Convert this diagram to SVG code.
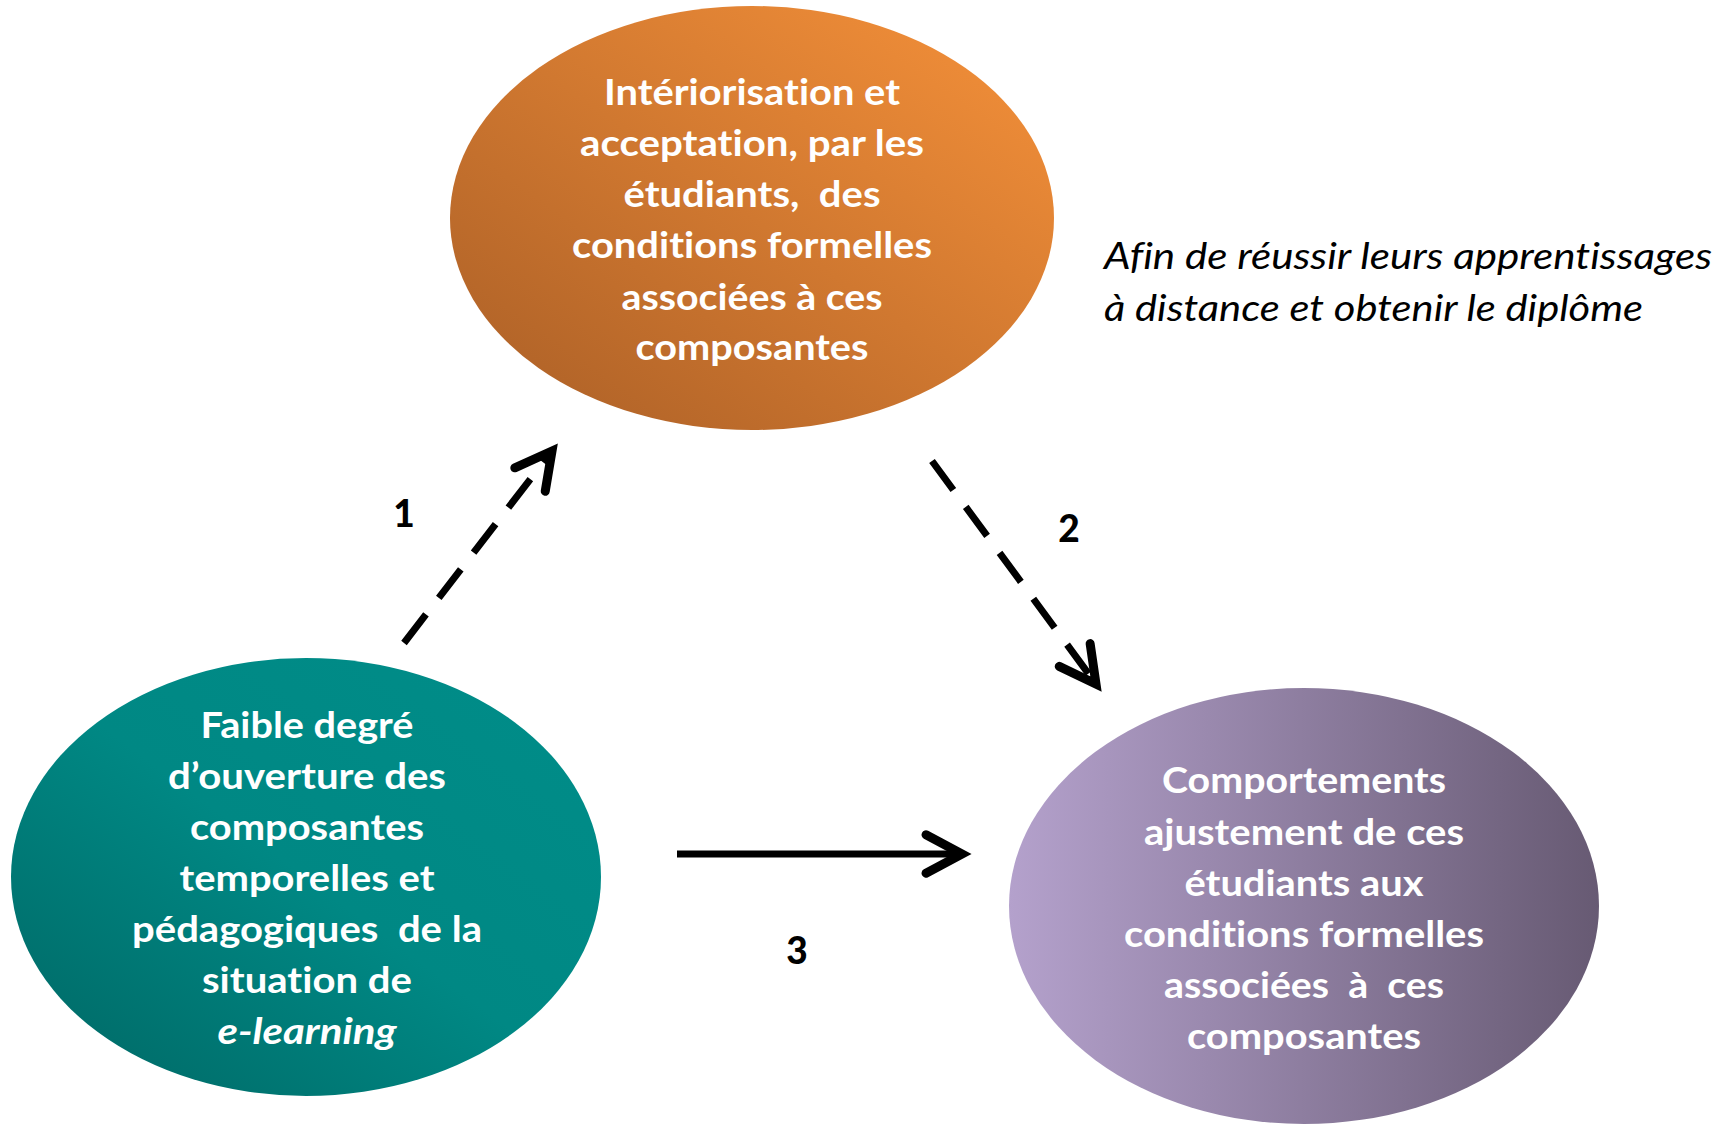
<svg xmlns="http://www.w3.org/2000/svg" width="1729" height="1124" viewBox="0 0 1729 1124">
  <defs>
    <linearGradient id="gOrange" x1="1" y1="0" x2="0" y2="1">
      <stop offset="0" stop-color="#F7923A"/>
      <stop offset="1" stop-color="#A95E26"/>
    </linearGradient>
    <linearGradient id="gTeal" x1="1" y1="0" x2="0" y2="1">
      <stop offset="0" stop-color="#008D89"/>
      <stop offset="0.5" stop-color="#008884"/>
      <stop offset="1" stop-color="#006663"/>
    </linearGradient>
    <linearGradient id="gPurple" x1="0" y1="0" x2="1" y2="0">
      <stop offset="0" stop-color="#B4A1CC"/>
      <stop offset="1" stop-color="#675A73"/>
    </linearGradient>
    <marker id="head" markerUnits="userSpaceOnUse" markerWidth="60" markerHeight="60" viewBox="-40 -25 50 50" refX="0" refY="0" orient="auto">
      <path d="M -30 -16 L 0 0 L -30 16" fill="none" stroke="#000" stroke-width="7.5" stroke-linecap="round" stroke-linejoin="miter"/>
    </marker>
    <style>
      text { font-variant-ligatures: none; }
      .lbl { font-family: "Lato", "Liberation Sans", sans-serif; font-weight: bold; font-size: 37px; fill: #fff; text-anchor: middle; white-space: pre; }
      .num { font-family: "Lato", "Liberation Sans", sans-serif; font-weight: 900; font-size: 37px; fill: #000; text-anchor: middle; }
      .note { font-family: "Lato", "Liberation Sans", sans-serif; font-style: italic; font-size: 37px; fill: #000; }
      .conn { fill: none; stroke: #000; stroke-width: 7; }
      .dash { stroke-dasharray: 36 21; }
    </style>
  </defs>
  <rect width="1729" height="1124" fill="#fff"/>

  <g id="node-interiorisation">
    <ellipse cx="752" cy="218" rx="302" ry="212" fill="url(#gOrange)"/>
    <text class="lbl" x="752" y="105" textLength="296" lengthAdjust="spacingAndGlyphs">Intériorisation et</text>
    <text class="lbl" x="752" y="156" textLength="344" lengthAdjust="spacingAndGlyphs">acceptation, par les</text>
    <text class="lbl" x="752" y="207" textLength="257" lengthAdjust="spacingAndGlyphs">étudiants,  des</text>
    <text class="lbl" x="752" y="258" textLength="360" lengthAdjust="spacingAndGlyphs">conditions formelles</text>
    <text class="lbl" x="752" y="310" textLength="261" lengthAdjust="spacingAndGlyphs">associées à ces</text>
    <text class="lbl" x="752" y="360" textLength="233" lengthAdjust="spacingAndGlyphs">composantes</text>
  </g>

  <g id="node-faible-degre">
    <ellipse cx="306" cy="877" rx="295" ry="219" fill="url(#gTeal)"/>
    <text class="lbl" x="307" y="738" textLength="213" lengthAdjust="spacingAndGlyphs">Faible degré</text>
    <text class="lbl" x="307" y="789" textLength="278" lengthAdjust="spacingAndGlyphs">d’ouverture des</text>
    <text class="lbl" x="307" y="840" textLength="234" lengthAdjust="spacingAndGlyphs">composantes</text>
    <text class="lbl" x="307" y="891" textLength="255" lengthAdjust="spacingAndGlyphs">temporelles et</text>
    <text class="lbl" x="307" y="942" textLength="350" lengthAdjust="spacingAndGlyphs">pédagogiques  de la</text>
    <text class="lbl" x="307" y="993" textLength="210" lengthAdjust="spacingAndGlyphs">situation de</text>
    <text class="lbl" x="307" y="1044" font-style="italic" textLength="179" lengthAdjust="spacingAndGlyphs">e-learning</text>
  </g>

  <g id="node-comportements">
    <ellipse cx="1304" cy="906" rx="295" ry="218" fill="url(#gPurple)"/>
    <text class="lbl" x="1304" y="793" textLength="284" lengthAdjust="spacingAndGlyphs">Comportements</text>
    <text class="lbl" x="1304" y="845" textLength="320" lengthAdjust="spacingAndGlyphs">ajustement de ces</text>
    <text class="lbl" x="1304" y="896" textLength="239" lengthAdjust="spacingAndGlyphs">étudiants aux</text>
    <text class="lbl" x="1304" y="947" textLength="360" lengthAdjust="spacingAndGlyphs">conditions formelles</text>
    <text class="lbl" x="1304" y="998" textLength="280" lengthAdjust="spacingAndGlyphs">associées  à  ces</text>
    <text class="lbl" x="1304" y="1049" textLength="234" lengthAdjust="spacingAndGlyphs">composantes</text>
  </g>

  <g id="note">
    <text class="note" x="1104" y="269" textLength="608" lengthAdjust="spacingAndGlyphs">Afin de réussir leurs apprentissages</text>
    <text class="note" x="1104" y="321" textLength="539" lengthAdjust="spacingAndGlyphs">à distance et obtenir le diplôme</text>
  </g>

  <g id="connectors">
    <line class="conn dash" x1="404" y1="643" x2="552" y2="451" marker-end="url(#head)"/>
    <line class="conn dash" x1="932" y1="461" x2="1096" y2="684" marker-end="url(#head)"/>
    <line class="conn" x1="677" y1="854" x2="962" y2="854" marker-end="url(#head)"/>
    <text class="num" x="404" y="527">1</text>
    <text class="num" x="1069" y="542">2</text>
    <text class="num" x="797" y="964">3</text>
  </g>
</svg>
